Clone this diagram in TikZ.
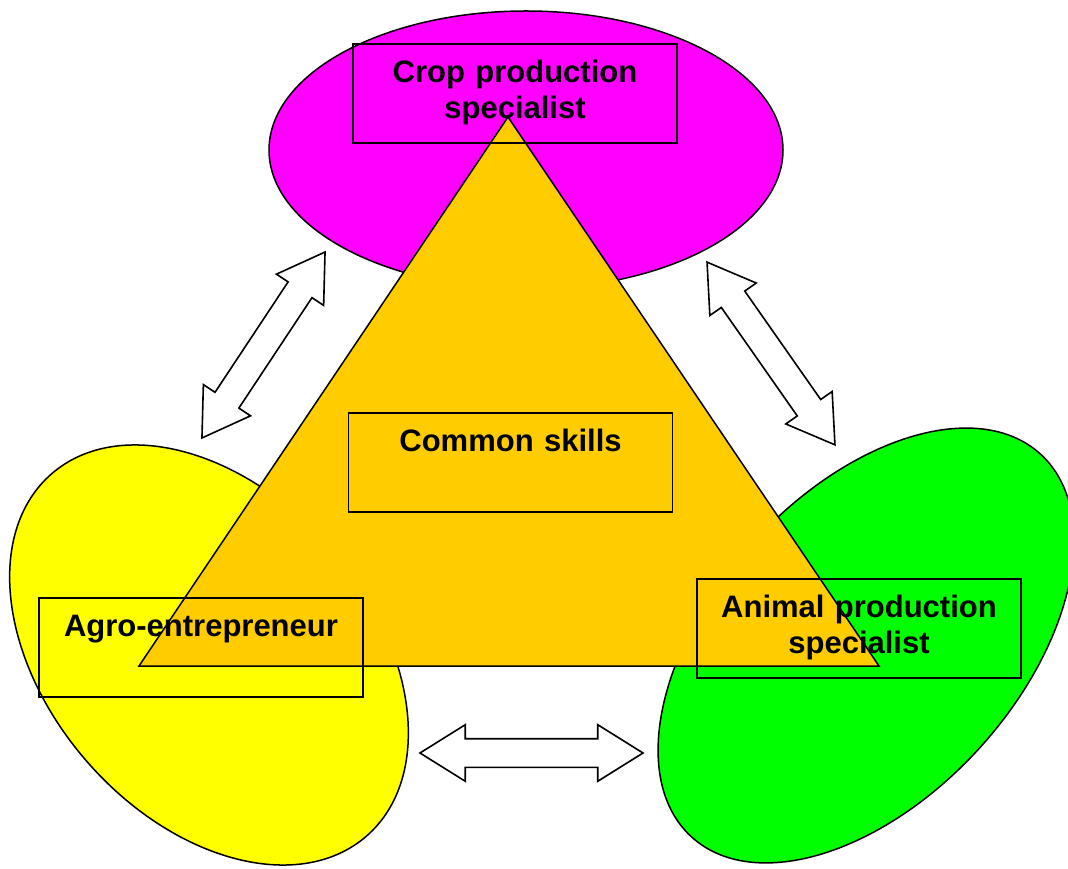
\documentclass[tikz,border=0pt]{standalone}
\usepackage{fontspec}
\setmainfont{Liberation Sans}
\usetikzlibrary{shapes.arrows}

\definecolor{cropmagenta}{RGB}{255,0,255}
\definecolor{agroyellow}{RGB}{255,255,0}
\definecolor{animalgreen}{RGB}{0,255,0}
\definecolor{commonorange}{RGB}{255,204,0}

\begin{document}
\begin{tikzpicture}[x=1pt, y=1pt,
		blob/.style={draw, line width=1.5pt},
		skillbox/.style={draw, line width=1.8pt, inner sep=0pt, anchor=north, text width=324pt, align=center,
			text height=39pt, text depth=60pt, font=\fontsize{31}{36}\selectfont\bfseries},
		dblarrow/.style={double arrow, draw, fill=white, line width=1.6pt, minimum height=223pt, minimum width=1pt,
			inner xsep=0pt, inner ysep=13.5pt, double arrow head extend=14pt, double arrow tip angle=64}]
		\useasboundingbox (0,0) rectangle (1068,868);

		\draw[blob, fill=cropmagenta] (526,718) ellipse [x radius=257, y radius=139];
		\draw[blob, fill=agroyellow] (209,213) circle [x radius=240, y radius=162, rotate=-49];
		\draw[blob, fill=animalgreen] (866,222.5) circle [x radius=259, y radius=153, rotate=47.65];

		\node[dblarrow, rotate=56.5] (cropagro) at (263.5,523) {};
		\node[dblarrow, rotate=-55] (cropanimal) at (771,514.5) {};
		\node[dblarrow] (agroanimal) at (531.5,115) {};

		\draw[blob, fill=commonorange] (508,751) -- (139,202) -- (879,202) -- cycle;

		\node[skillbox] (crop) at (515,825) {Crop production\\specialist};
		\node[skillbox] (common) at (510.5,456) {Common skills};
		\node[skillbox] (agro) at (201,271) {Agro-entrepreneur};
		\node[skillbox] (animal) at (859,290) {Animal production\\specialist};
	\end{tikzpicture}
\end{document}
